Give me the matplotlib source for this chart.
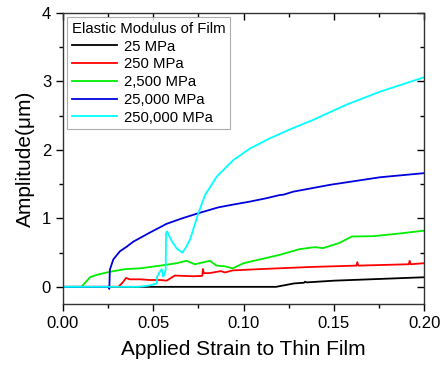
import matplotlib
matplotlib.use('Agg')
import matplotlib.pyplot as plt
from matplotlib.ticker import MultipleLocator

plt.rcParams['font.family'] = ['Liberation Sans', 'DejaVu Sans']

# 25 MPa
x_25 = [0.0, 0.118, 0.124, 0.128, 0.1335, 0.134, 0.135, 0.15, 0.17, 0.185, 0.20]
y_25 = [0.0, 0.0, 0.03, 0.05, 0.06, 0.075, 0.065, 0.09, 0.11, 0.125, 0.14]

# 250 MPa
x_250 = [0.0, 0.026, 0.0307, 0.033, 0.035, 0.037, 0.0427, 0.048, 0.054, 0.0574, 0.062,
         0.0665, 0.072, 0.0772, 0.0775, 0.078, 0.081, 0.0875, 0.0897, 0.094, 0.11, 0.137,
         0.1625, 0.163, 0.1635, 0.1915, 0.192, 0.1925, 0.20]
y_250 = [0.0, 0.0, 0.0, 0.06, 0.13, 0.11, 0.11, 0.10, 0.10, 0.09, 0.165,
         0.16, 0.155, 0.16, 0.26, 0.2, 0.2, 0.23, 0.21, 0.24, 0.26, 0.29,
         0.31, 0.36, 0.31, 0.33, 0.38, 0.33, 0.345]

# 2,500 MPa
x_2500 = [0.0, 0.0103, 0.015, 0.0187, 0.026, 0.035, 0.0427, 0.054, 0.063, 0.0685, 0.073,
          0.0814, 0.085, 0.0897, 0.094, 0.10, 0.12, 0.131, 0.1396, 0.144, 0.153, 0.16,
          0.172, 0.1867, 0.20]
y_2500 = [0.0, 0.0, 0.14, 0.175, 0.22, 0.26, 0.27, 0.31, 0.345, 0.38, 0.33,
          0.38, 0.31, 0.30, 0.27, 0.345, 0.467, 0.55, 0.58, 0.565, 0.64, 0.735,
          0.74, 0.78, 0.82]

# 25,000 MPa
x_25000 = [0.0, 0.0252, 0.0257, 0.026, 0.0279, 0.0316, 0.035, 0.039, 0.048, 0.0574, 0.066,
           0.075, 0.086, 0.094, 0.1036, 0.112, 0.12, 0.122, 0.1276, 0.148, 0.1756, 0.20]
y_25000 = [0.0, 0.0, -0.03, 0.25, 0.40, 0.52, 0.58, 0.66, 0.79, 0.92, 1.0,
           1.075, 1.16, 1.20, 1.245, 1.29, 1.34, 1.345, 1.39, 1.49, 1.60, 1.66]

# 250,000 MPa
x_250000 = [0.0, 0.042, 0.048, 0.052, 0.0522, 0.0537, 0.0547, 0.0555, 0.056, 0.0569, 0.0571,
            0.0577, 0.060, 0.063, 0.0661, 0.068, 0.0704, 0.075, 0.0787, 0.0852, 0.0943,
            0.1036, 0.1147, 0.1258, 0.1387, 0.157, 0.1756, 0.20]
y_250000 = [0.0, 0.0, 0.02, 0.05, 0.15, 0.22, 0.26, 0.15, 0.17, 0.25, 0.78,
            0.81, 0.68, 0.56, 0.50, 0.57, 0.69, 1.075, 1.34, 1.61, 1.85,
            2.02, 2.17, 2.30, 2.44, 2.66, 2.85, 3.06]

labels = ['25 MPa', '250 MPa', '2,500 MPa', '25,000 MPa', '250,000 MPa']
colors = ['black', '#ff0000', '#00ee00', '#0000dd', '#00ffff']

fig = plt.figure(figsize=(4.46, 3.68), dpi=100)
ax = fig.add_axes([0.141, 0.174, 0.810, 0.791])

series = [(x_25, y_25), (x_250, y_250), (x_2500, y_2500), (x_25000, y_25000), (x_250000, y_250000)]
for (xs, ys), lab, c in zip(series, labels, colors):
    ax.plot(xs, ys, color=c, linewidth=1.3, label=lab)

ax.set_xlim(0, 0.20)
ax.set_ylim(-0.25, 4)
ax.set_xticks([0.00, 0.05, 0.10, 0.15, 0.20])
ax.set_xticklabels(['0.00', '0.05', '0.10', '0.15', '0.20'])
ax.set_yticks([0, 1, 2, 3, 4])
ax.xaxis.set_minor_locator(MultipleLocator(0.025))
ax.yaxis.set_minor_locator(MultipleLocator(0.5))
ax.tick_params(axis='both', which='major', labelsize=12, length=5, width=1, direction='out',
               top=True, right=True)
ax.tick_params(axis='both', which='minor', length=3, width=1, direction='out', top=True, right=True)
for t in ax.xaxis.get_major_ticks() + ax.xaxis.get_minor_ticks():
    t.tick2line.set_marker(3)
for t in ax.yaxis.get_major_ticks() + ax.yaxis.get_minor_ticks():
    t.tick2line.set_marker(0)
for s in ax.spines.values():
    s.set_color('#333333')
    s.set_linewidth(1.0)

ax.set_xlabel('Applied Strain to Thin Film', fontsize=15, labelpad=7)
ax.set_ylabel('Amplitude(\u03bcm)', fontsize=15, labelpad=5)

leg = ax.legend(title='Elastic Modulus of Film', loc='upper left', fontsize=10.75, title_fontsize=10.75,
                frameon=True, fancybox=False, edgecolor='#999999', handlelength=3.0,
                handletextpad=0.5, labelspacing=0.25, borderpad=0.3, borderaxespad=0.3)
leg._legend_box.align = 'left'
leg.get_frame().set_linewidth(0.8)

fig.savefig('out.png', dpi=100)
